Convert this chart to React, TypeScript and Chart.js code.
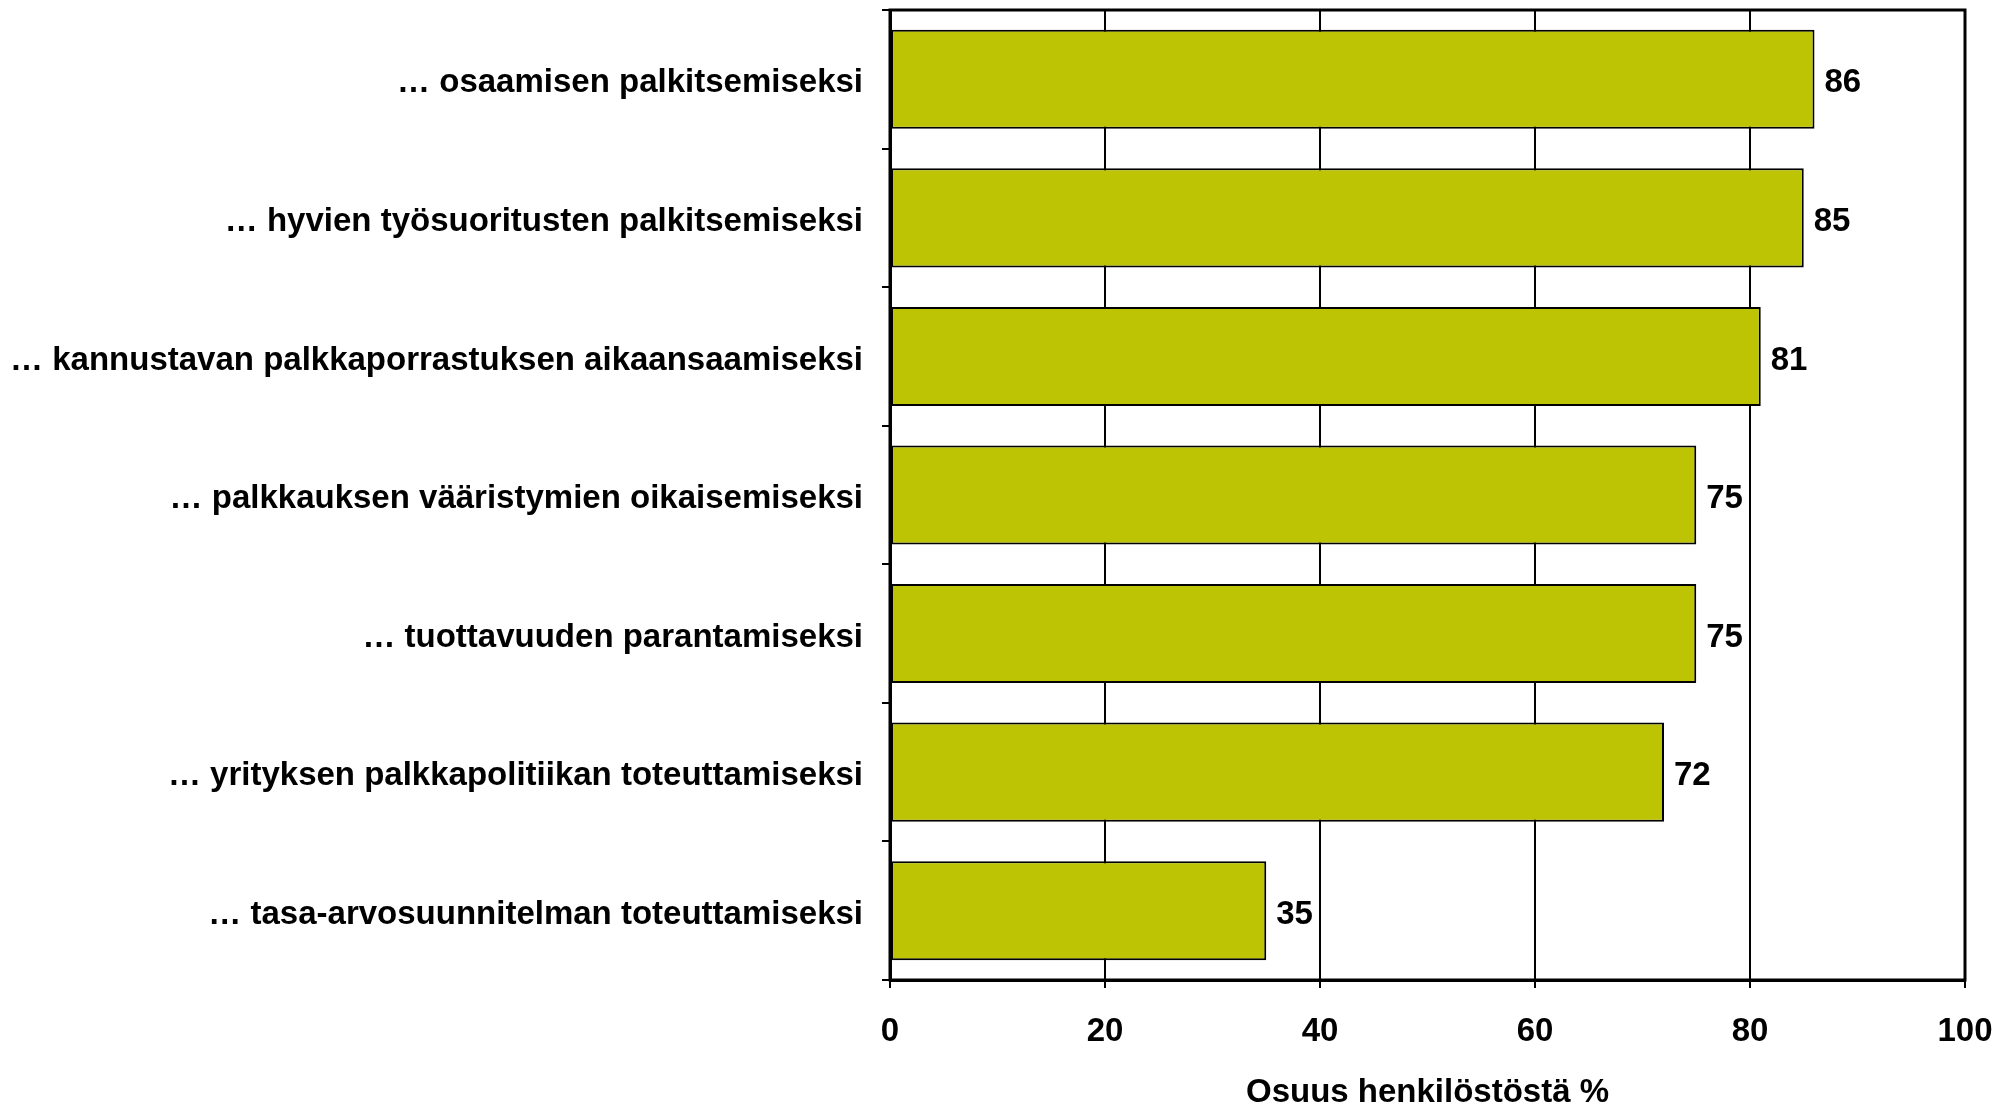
import React, { useEffect, useRef } from "react";
import { Chart, registerables } from "chart.js";

Chart.register(...registerables);

const categories = [
  "… osaamisen palkitsemiseksi",
  "… hyvien työsuoritusten palkitsemiseksi",
  "… kannustavan palkkaporrastuksen aikaansaamiseksi",
  "… palkkauksen vääristymien oikaisemiseksi",
  "… tuottavuuden parantamiseksi",
  "… yrityksen palkkapolitiikan toteuttamiseksi",
  "… tasa-arvosuunnitelman toteuttamiseksi",
];
const values = [86, 85, 81, 75, 75, 72, 35];
const xTicks = [0, 20, 40, 60, 80, 100];
const xTitle = "Osuus henkilöstöstä %";

const FONT = "'Liberation Sans', Arial, sans-serif";

const W = 2016;
const H = 1109;

export default function App() {
  const ref = useRef<HTMLCanvasElement | null>(null);

  useEffect(() => {
    document.body.style.margin = "0";
    const canvas = ref.current;
    if (!canvas) return;

    const valueLabels = {
      id: "valueLabels",
      afterDatasetsDraw(chart: any) {
        const ctx = chart.ctx;
        const meta = chart.getDatasetMeta(0);
        ctx.save();
        ctx.font = `bold 33px ${FONT}`;
        ctx.fillStyle = "#000";
        ctx.textAlign = "left";
        ctx.textBaseline = "middle";
        meta.data.forEach((bar: any, i: number) => {
          ctx.fillText(String(values[i]), bar.x + 10, bar.y + 4);
        });
        ctx.restore();
      },
    };

    const frame = {
      id: "frame",
      afterDraw(chart: any) {
        const { ctx, chartArea } = chart;
        ctx.save();
        ctx.strokeStyle = "#000";
        ctx.lineWidth = 3;
        ctx.strokeRect(
          chartArea.left,
          chartArea.top,
          chartArea.right - chartArea.left,
          chartArea.bottom - chartArea.top
        );
        ctx.restore();
      },
    };

    const chart = new Chart(canvas, {
      type: "bar",
      data: {
        labels: categories,
        datasets: [
          {
            data: values,
            backgroundColor: "#BCC404",
            borderColor: "#000",
            borderWidth: 2,
            borderSkipped: false,
            categoryPercentage: 1,
            barPercentage: 0.715,
          },
        ],
      },
      options: {
        indexAxis: "y",
        animation: false,
        responsive: false,
        devicePixelRatio: 1,
        layout: { padding: { top: 10, right: 51, left: 0, bottom: 0 } },
        plugins: {
          legend: { display: false },
          tooltip: { enabled: false },
        },
        scales: {
          x: {
            min: 0,
            max: 100,
            afterBuildTicks(scale: any) {
              scale.ticks = xTicks.map((v) => ({ value: v }));
            },
            afterFit(scale: any) {
              scale.height = 129;
              scale.paddingLeft = 0;
              scale.paddingRight = 0;
            },
            grid: {
              color: "#000",
              lineWidth: 2,
              tickLength: 8,
              drawTicks: true,
            },
            border: { color: "#000", width: 3 },
            ticks: {
              color: "#000",
              padding: 24,
              font: { family: FONT, size: 33, weight: "bold" },
            },
            title: {
              display: true,
              text: xTitle,
              color: "#000",
              padding: { top: 0, bottom: 0 },
              font: { family: FONT, size: 33, weight: "bold", lineHeight: 1 },
            },
          },
          y: {
            afterFit(scale: any) {
              scale.width = 890;
              scale.paddingTop = 0;
              scale.paddingBottom = 0;
            },
            grid: {
              offset: true,
              drawOnChartArea: false,
              color: "#000",
              lineWidth: 2,
              tickLength: 8,
            },
            border: { color: "#000", width: 3 },
            ticks: {
              color: "#000",
              padding: 19,
              labelOffset: 4,
              autoSkip: false,
              font: { family: FONT, size: 33, weight: "bold" },
            },
          },
        },
      },
      plugins: [valueLabels, frame],
    });

    return () => chart.destroy();
  }, []);

  return (
    <div style={{ width: W, height: H, background: "#fff" }}>
      <canvas ref={ref} width={W} height={H} style={{ width: W, height: H, display: "block" }} />
    </div>
  );
}
